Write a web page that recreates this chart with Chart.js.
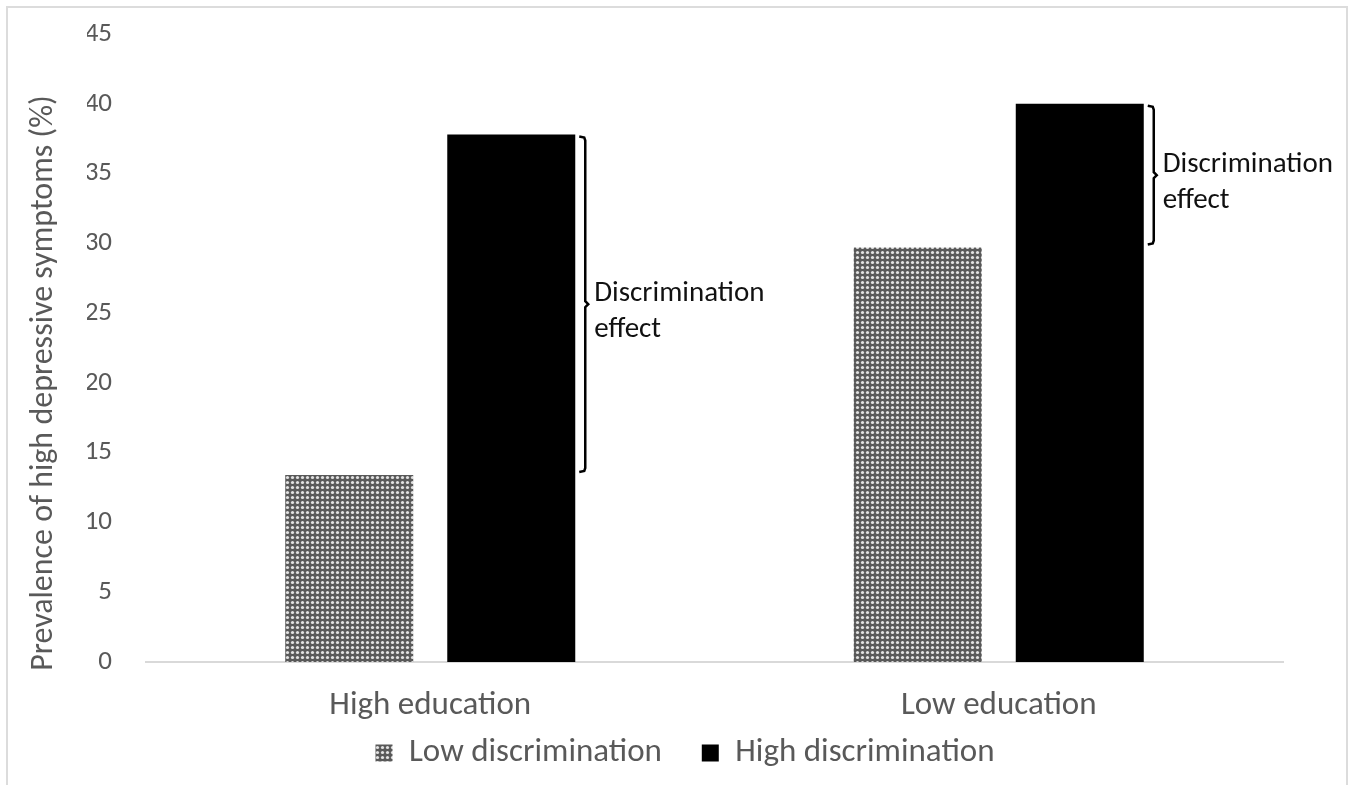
<!DOCTYPE html>
<html>
<head>
<meta charset="utf-8">
<script src="https://cdn.jsdelivr.net/npm/chart.js@4/dist/chart.umd.min.js"></script>
<style>
  html, body { margin: 0; padding: 0; background: #fff; overflow: hidden; }
  #frame { position: absolute; left: 6px; top: 6px; width: 1342px; height: 800px; border: 2px solid #dcdcdc; box-sizing: border-box; }
  #wrap { position: absolute; left: 0; top: 0; width: 1355px; height: 785px; }
</style>
</head>
<body>
<div id="frame"></div>
<div id="wrap"><canvas id="chart"></canvas></div>
<script>
const categories = ["High education", "Low education"];
const seriesNames = ["Low discrimination", "High discrimination"];
const lowDiscrimination = [13.4, 29.7];
const highDiscrimination = [37.8, 40.0];
const yTicks = [0, 5, 10, 15, 20, 25, 30, 35, 40, 45];
const yTitle = "Prevalence of high depressive symptoms (%)";
const effectLabel = ["Discrimination", "effect"];

const FONT = "Carlito, Calibri, Lato, sans-serif";
const TEXT_GREY = "#595959";

function makeDotPattern() {
  const tile = document.createElement("canvas");
  tile.width = 5;
  tile.height = 5;
  const t = tile.getContext("2d");
  t.fillStyle = "#595959";
  t.fillRect(0, 0, 5, 5);
  t.fillStyle = "#e2e2e2";
  t.beginPath();
  t.arc(2.5, 2.5, 1.6, 0, Math.PI * 2);
  t.fill();
  return t.createPattern(tile, "repeat");
}

// rotated y title, centred a bit below the plot middle like the original
const yTitlePlugin = {
  id: "yTitle",
  afterDraw(chart) {
    const { ctx, chartArea } = chart;
    ctx.save();
    ctx.translate(44, (chartArea.top + chartArea.bottom) / 2 + 35);
    ctx.rotate(-Math.PI / 2);
    ctx.fillStyle = TEXT_GREY;
    ctx.font = `32px ${FONT}`;
    ctx.textAlign = "center";
    ctx.textBaseline = "middle";
    ctx.fillText(yTitle, 0, 0);
    ctx.restore();
  },
};

// curly bracket "}" between the two bar tops, with the label on its right
const bracketPlugin = {
  id: "bracket",
  afterDatasetsDraw(chart) {
    const { ctx, scales } = chart;
    const highBars = chart.getDatasetMeta(1).data;
    ctx.save();
    ctx.strokeStyle = "#000";
    ctx.lineWidth = 2.5;
    highBars.forEach((bar, i) => {
      const x = bar.x + bar.width / 2 + 10;
      const yTop = scales.y.getPixelForValue(highDiscrimination[i]) + 2;
      const yBot = scales.y.getPixelForValue(lowDiscrimination[i]) - 3;
      const yMid = (yTop + yBot) / 2;
      ctx.beginPath();
      ctx.moveTo(x - 6, yTop);
      ctx.lineTo(x - 1, yTop + 1);
      ctx.lineTo(x, yTop + 4);
      ctx.lineTo(x, yMid - 3);
      ctx.lineTo(x + 3, yMid);
      ctx.lineTo(x, yMid + 3);
      ctx.lineTo(x, yBot - 4);
      ctx.lineTo(x - 1, yBot - 1);
      ctx.lineTo(x - 6, yBot);
      ctx.stroke();
      ctx.fillStyle = "#111";
      ctx.font = `29px ${FONT}`;
      ctx.textAlign = "left";
      ctx.textBaseline = "alphabetic";
      ctx.fillText(effectLabel[0], x + 9, yMid - 3);
      ctx.fillText(effectLabel[1], x + 9, yMid + 33);
    });
    ctx.restore();
  },
};

const pattern = makeDotPattern();

new Chart(document.getElementById("chart"), {
  type: "bar",
  data: {
    labels: categories,
    datasets: [
      { label: seriesNames[0], data: lowDiscrimination, backgroundColor: pattern, borderWidth: 0 },
      { label: seriesNames[1], data: highDiscrimination, backgroundColor: "#000", borderWidth: 0 },
    ],
  },
  options: {
    responsive: true,
    maintainAspectRatio: false,
    animation: false,
    datasets: { bar: { categoryPercentage: 0.57, barPercentage: 0.79 } },
    layout: { padding: { left: 87, right: 72, top: 34, bottom: 5.5 } },
    plugins: {
      tooltip: { enabled: false },
      legend: {
        position: "bottom",
        labels: {
          boxWidth: 17,
          boxHeight: 17,
          padding: 10,
          color: TEXT_GREY,
          font: { family: FONT, size: 33 },
          // wider gap between the two legend entries, as in the original
          generateLabels: (chart) =>
            Chart.defaults.plugins.legend.labels.generateLabels(chart).map((item, i) => ({
              ...item,
              text: i === 0 ? item.text + "    " : item.text,
            })),
        },
      },
    },
    scales: {
      x: {
        afterFit: (scale) => { scale.height = 64.5; },
        grid: { display: false, drawTicks: false },
        border: { display: true, color: "#d9d9d9", width: 2 },
        ticks: { color: TEXT_GREY, padding: 24, font: { family: FONT, size: 33 } },
      },
      y: {
        min: 0,
        max: 45,
        afterBuildTicks: (scale) => { scale.ticks = yTicks.map((v) => ({ value: v })); },
        afterFit: (scale) => {
          scale.width = 59;
          scale.paddingTop = 0;
          scale.paddingBottom = 0;
        },
        grid: { display: false, drawTicks: false },
        border: { display: false },
        ticks: { color: TEXT_GREY, padding: 34, font: { family: FONT, size: 27 } },
      },
    },
  },
  plugins: [bracketPlugin, yTitlePlugin],
});
</script>
</body>
</html>
